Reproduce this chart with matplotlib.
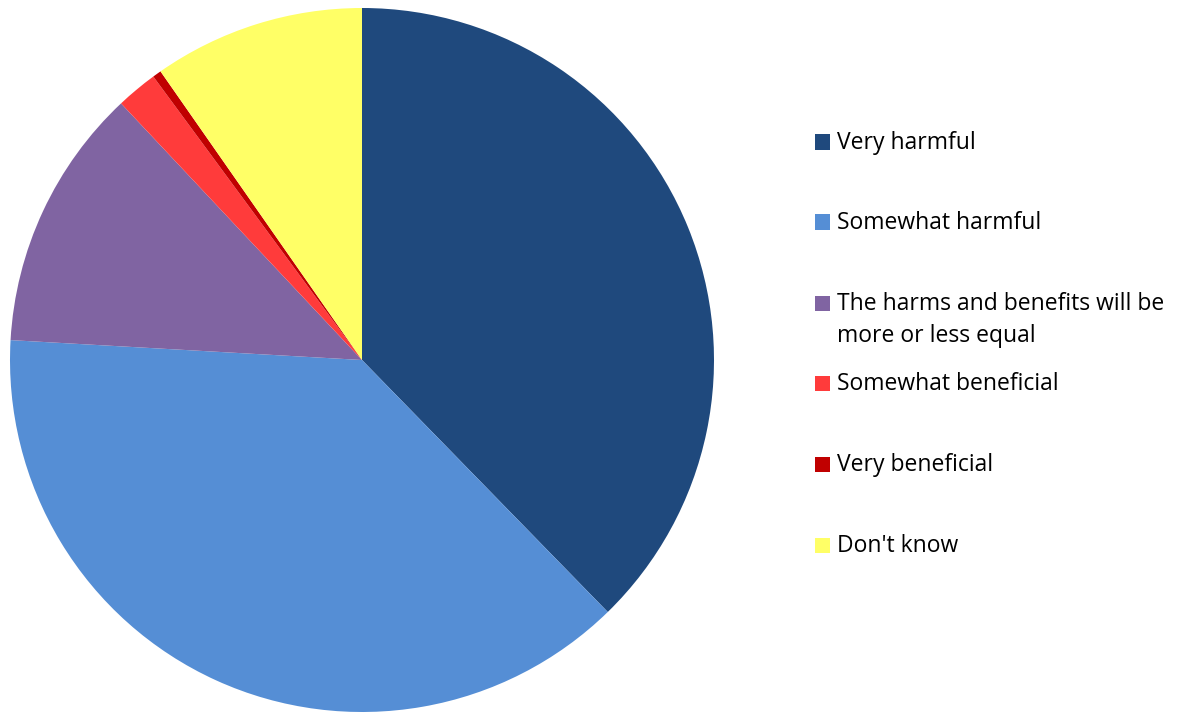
import matplotlib
matplotlib.use("Agg")
import matplotlib.pyplot as plt
from matplotlib.patches import Rectangle

categories = ["Very harmful", "Somewhat harmful",
              "The harms and benefits will be\nmore or less equal",
              "Somewhat beneficial", "Very beneficial", "Don't know"]
values = [37.7, 38.2, 12.1, 1.9, 0.4, 9.7]
colors = ["#1F497D", "#558ED5", "#8064A2", "#FF3B3B", "#C00000", "#FFFF66"]

W, H = 1182, 714
fig = plt.figure(figsize=(W / 100, H / 100), dpi=100)
ax = fig.add_axes([10 / W, (H - 712) / H, 704 / W, 704 / H])
ax.pie(values, colors=colors, startangle=90, counterclock=False,
       radius=1.0, wedgeprops=dict(linewidth=0))
ax.set_xlim(-1, 1)
ax.set_ylim(-1, 1)
ax.set_aspect("equal")
ax.axis("off")

# legend
ys = [142, 222, 303, 383, 464, 545]
for lab, col, y in zip(categories, colors, ys):
    fig.patches.append(Rectangle((815 / W, (H - y - 7.5) / H), 15 / W, 15 / H,
                                 transform=fig.transFigure, facecolor=col,
                                 edgecolor="none"))
    for i, line in enumerate(lab.split("\n")):
        fig.text(837 / W, (H - (y + 7 + 32 * i)) / H, line, fontsize=16.5,
                 family="Open Sans", va="baseline", ha="left",
                 color="#000000")

fig.savefig("out.png", dpi=100)
